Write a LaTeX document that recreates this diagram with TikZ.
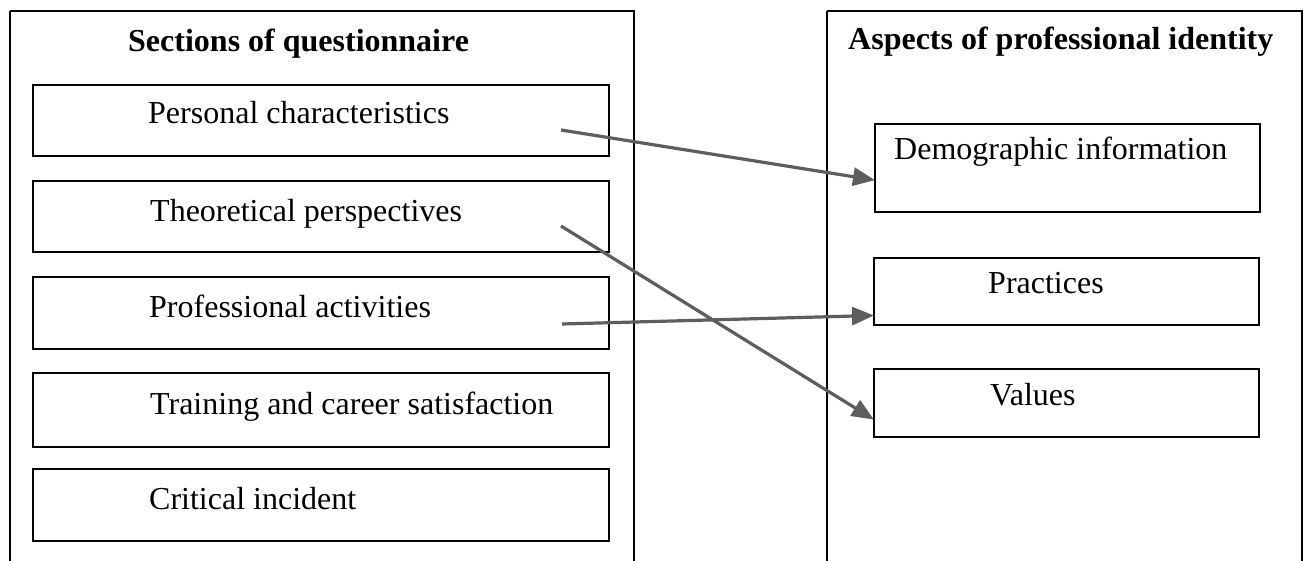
\documentclass[tikz,border=0pt]{standalone}
\usepackage{fontspec}
\setmainfont{Liberation Serif}
\usetikzlibrary{arrows.meta}
\definecolor{arrowgray}{HTML}{5E5E5E}
\begin{document}
\begin{tikzpicture}[x=1pt,y=-1pt,
  outerbox/.style={draw=black,line width=2.8pt},
  itembox/.style={draw=black,line width=2pt},
  title/.style={font=\fontsize{32}{38}\selectfont\bfseries,anchor=base west,inner sep=0pt},
  itemtext/.style={font=\fontsize{32}{38}\selectfont,anchor=base west,inner sep=0pt},
  link/.style={draw=arrowgray,line width=3.2pt,-{Triangle[length=22pt,width=18pt]},shorten >=-1pt}]
\useasboundingbox (0,0) rectangle (1307,561);
\fill[white] (0,0) rectangle (1307,561);
\begin{scope}
\clip (0,0) rectangle (1307,561);
% outer panels
\draw[outerbox] (10,11) -- (10,580) (10,11) -- (634,11) -- (634,580);
\draw[outerbox] (827,11) -- (827,580) (827,11) -- (1302,11) -- (1302,580);
\end{scope}
\node[title] (t1) at (128,52) {Sections of questionnaire};
\node[title] (t2) at (848,50) {Aspects of professional identity};
% left boxes
\draw[itembox] (33,85) rectangle (609,156);
\draw[itembox] (33,181) rectangle (609,252);
\draw[itembox] (33,277) rectangle (609,349);
\draw[itembox] (33,373) rectangle (609,447);
\draw[itembox] (33,469) rectangle (609,541);
\node[itemtext] (pc) at (148,124) {Personal characteristics};
\node[itemtext] (tp) at (150,222) {Theoretical perspectives};
\node[itemtext] (pa) at (149,318) {Professional activities};
\node[itemtext] (tc) at (150,414) {Training and career satisfaction};
\node[itemtext] (ci) at (149,509) {Critical incident};
% right boxes
\node[itembox,minimum width=385pt,minimum height=88pt,anchor=north west,inner sep=0pt] (demo) at (874,123) {};
\node[itembox,minimum width=385pt,minimum height=67pt,anchor=north west,inner sep=0pt] (prac) at (873,257) {};
\node[itembox,minimum width=385pt,minimum height=68pt,anchor=north west,inner sep=0pt] (vals) at (873,368) {};
\node[itemtext] (dt) at (894,160) {Demographic information};
\node[itemtext] (pt) at (988,294) {Practices};
\node[itemtext] (vt) at (990,405) {Values};
% connector end points
\coordinate (s1) at (561,130);
\coordinate (s2) at (561,226);
\coordinate (s3) at (562,324);
\coordinate (e1) at ([yshift=-12pt]demo.west);
\coordinate (e2) at ([yshift=-16pt]vals.west);
\coordinate (e3) at ([yshift=-24pt]prac.west);
\draw[link] (s1) -- (e1);
\draw[link] (s2) -- (e2);
\draw[link] (s3) -- (e3);
\end{tikzpicture}
\end{document}
